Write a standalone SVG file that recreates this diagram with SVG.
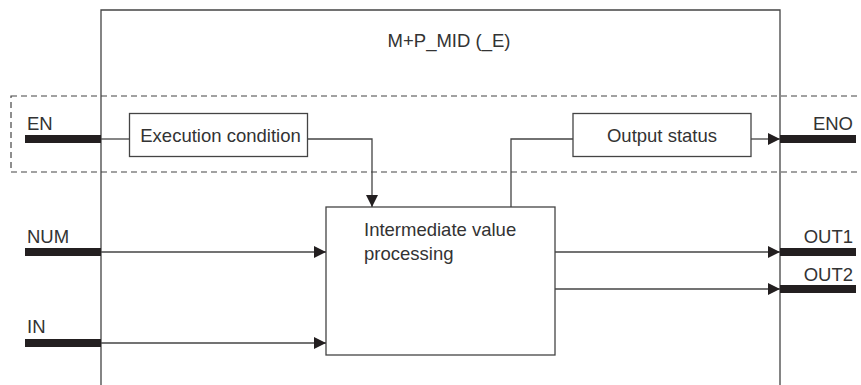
<svg xmlns="http://www.w3.org/2000/svg" width="861" height="385" viewBox="0 0 861 385">
<defs>
<marker id="arr" viewBox="0 0 12 12" refX="12" refY="6" markerWidth="12" markerHeight="12" markerUnits="userSpaceOnUse" orient="auto">
<path d="M0,0 L12,6 L0,12 Z" fill="#231f20"/>
</marker>
</defs>
<style>
text{font-family:"Liberation Sans",Arial,sans-serif;font-size:18.5px;fill:#333}
.box{fill:#fff;stroke:#444;stroke-width:1.3}
.ln{fill:none;stroke:#444;stroke-width:1.3}
.bar{fill:#231f20}
.dash{fill:none;stroke:#444;stroke-width:1.2;stroke-dasharray:6,4}
</style>
<rect width="861" height="385" fill="#fff"/>
<g id="fb">
<path class="ln" d="M101,385 V10 H780 V385"/>
<text x="449" y="47" text-anchor="middle">M+P_MID (_E)</text>
</g>
<rect class="dash" x="11" y="96" width="860" height="76"/>
<g id="pins">
<rect class="bar" x="25" y="135" width="76" height="8"/>
<text x="27" y="130">EN</text>
<rect class="bar" x="25" y="248" width="76" height="8"/>
<text x="27" y="243">NUM</text>
<rect class="bar" x="25" y="339" width="76" height="8"/>
<text x="27" y="333">IN</text>
<rect class="bar" x="780" y="135" width="76" height="8"/>
<text x="853" y="130" text-anchor="end">ENO</text>
<rect class="bar" x="780" y="248" width="76" height="8"/>
<text x="853" y="243" text-anchor="end">OUT1</text>
<rect class="bar" x="780" y="285" width="76" height="8"/>
<text x="853" y="281" text-anchor="end">OUT2</text>
</g>
<g id="exec">
<rect class="box" x="129.5" y="113.5" width="178" height="43"/>
<text x="220.5" y="142" text-anchor="middle">Execution condition</text>
</g>
<g id="outstat">
<rect class="box" x="573" y="113.5" width="178" height="43"/>
<text x="662" y="142" text-anchor="middle">Output status</text>
</g>
<g id="proc">
<rect class="box" x="326" y="207" width="229" height="148"/>
<text x="364" y="236">Intermediate value</text>
<text x="364" y="260">processing</text>
</g>
<g id="connectors">
<path class="ln" d="M101,139 H129.5"/>
<path class="ln" d="M307.5,139 H372 V207" marker-end="url(#arr)"/>
<path class="ln" d="M511,207 V139 H573"/>
<path class="ln" d="M751,139 H780" marker-end="url(#arr)"/>
<path class="ln" d="M101,252 H326" marker-end="url(#arr)"/>
<path class="ln" d="M101,343 H326" marker-end="url(#arr)"/>
<path class="ln" d="M555,252 H780" marker-end="url(#arr)"/>
<path class="ln" d="M555,289 H780" marker-end="url(#arr)"/>
</g>
</svg>
